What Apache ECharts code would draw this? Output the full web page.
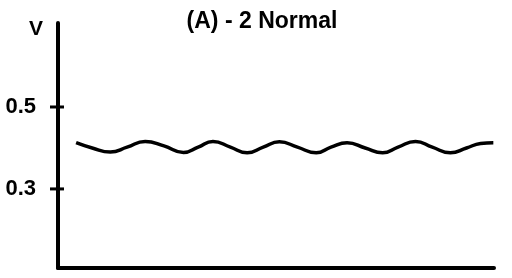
<!DOCTYPE html>
<html>
<head>
<meta charset="utf-8">
<script src="https://cdn.jsdelivr.net/npm/echarts@6/dist/echarts.min.js"></script>
<style>
html,body{margin:0;padding:0;background:#fff;}
#chart{width:512px;height:278px;}
</style>
</head>
<body>
<div id="chart"></div>
<script>
var titleText = '(A) - 2 Normal';
var yAxisName = 'V';
var yTickValues = [0.3, 0.5];
var timeValues = [0.27, 0.51, 0.78, 1.03, 1.30, 1.58, 1.87, 2.09, 2.31, 2.57, 2.82, 3.06, 3.30, 3.57, 3.85, 4.07, 4.31, 4.58, 4.84, 5.07, 5.33, 5.58, 5.85, 6.09, 6.30, 6.49];
var voltageValues = [0.413, 0.400, 0.390, 0.402, 0.416, 0.405, 0.389, 0.402, 0.416, 0.402, 0.388, 0.402, 0.415, 0.402, 0.388, 0.402, 0.413, 0.400, 0.388, 0.402, 0.416, 0.402, 0.388, 0.400, 0.411, 0.413];

var seriesData = timeValues.map(function (t, i) { return [t, voltageValues[i]]; });
var tickData = yTickValues.map(function (v) { return [0, v]; });
var font = '"Liberation Sans", Arial, Helvetica, sans-serif';

var chart = echarts.init(document.getElementById('chart'), null, {renderer: 'canvas'});
chart.setOption({
  animation: false,
  backgroundColor: '#ffffff',
  title: {
    text: titleText,
    left: 257,
    textAlign: 'center',
    top: 5,
    textStyle: {fontFamily: font, fontWeight: 'bold', fontSize: 23, color: '#000'}
  },
  grid: {left: 58, right: 18, top: 23, bottom: 10, containLabel: false},
  xAxis: {
    type: 'value',
    min: 0,
    max: 6.5,
    axisLine: {show: true, onZero: false, lineStyle: {color: '#000', width: 4}},
    axisTick: {show: false},
    axisLabel: {show: false},
    splitLine: {show: false}
  },
  yAxis: {
    type: 'value',
    min: 0.107,
    max: 0.705,
    name: yAxisName,
    nameLocation: 'end',
    nameGap: 0,
    nameTextStyle: {fontFamily: font, fontWeight: 'bold', fontSize: 21, color: '#000', align: 'right', verticalAlign: 'top', padding: [-4, 15, 0, 0]},
    axisLine: {show: true, lineStyle: {color: '#000', width: 4}},
    axisTick: {show: false},
    axisLabel: {show: true, customValues: yTickValues, margin: 22, fontFamily: font, fontWeight: 'bold', fontSize: 22, color: '#000',
      formatter: function (v) { return v.toFixed(1); }},
    splitLine: {show: false}
  },
  series: [{
    type: 'line',
    data: seriesData,
    smooth: 0.5,
    showSymbol: false,
    lineStyle: {color: '#000', width: 3.5}
  }, {
    type: 'custom',
    data: tickData,
    clip: false,
    silent: true,
    renderItem: function (params, api) {
      var p = api.coord([api.value(0), api.value(1)]);
      return {
        type: 'line',
        shape: {x1: p[0] - 8, y1: p[1], x2: p[0] + 6, y2: p[1]},
        style: {stroke: '#000', lineWidth: 3}
      };
    }
  }]
});
</script>
</body>
</html>
